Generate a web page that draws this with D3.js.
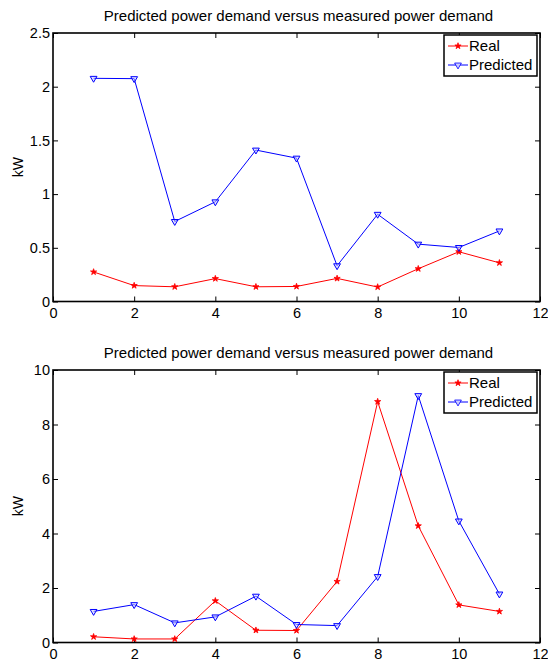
<!DOCTYPE html>
<html>
<head>
<meta charset="utf-8">
<script src="https://cdn.jsdelivr.net/npm/d3@7"></script>
<style>
  body { margin: 0; background: #fff; }
  svg { display: block; font-family: "Liberation Sans", Arial, sans-serif; }
</style>
</head>
<body>
<div id="container"></div>
<script>
const width = 548;
const height = 661;

// hours 1..11
const hours = [1, 2, 3, 4, 5, 6, 7, 8, 9, 10, 11];

// top panel
const realTop = [0.275, 0.148, 0.137, 0.213, 0.137, 0.140, 0.215, 0.135, 0.305, 0.463, 0.360];
const predTop = [2.078, 2.075, 0.745, 0.928, 1.410, 1.335, 0.333, 0.812, 0.534, 0.503, 0.657];

// bottom panel
const realBottom = [0.21, 0.13, 0.13, 1.53, 0.45, 0.44, 2.24, 8.84, 4.28, 1.38, 1.14];
const predBottom = [1.14, 1.39, 0.72, 0.94, 1.70, 0.66, 0.62, 2.42, 9.06, 4.46, 1.78];

const xTicks = [0, 2, 4, 6, 8, 10, 12];
const yTicksTop = [0, 0.5, 1, 1.5, 2, 2.5];
const yTicksBottom = [0, 2, 4, 6, 8, 10];

const titleText = "Predicted power demand versus measured power demand";
const seriesNames = ["Real", "Predicted"];
const colors = { Real: "#ff0000", Predicted: "#0000ff" };

let svg = d3.select("#container")
	.append("svg")
	.attr("width", width)
	.attr("height", height);

// one subplot, MATLAB style
function drawPanel(box, yMax, yTicks, real, pred) {
	const x = d3.scaleLinear().domain([0, 12]).range([box.left, box.right]);
	const y = d3.scaleLinear().domain([0, yMax]).range([box.bottom, box.top]);
	const g = svg.append("g");
	const fmt = d => String(d);

	g.append("text")
		.attr("x", (box.left + box.right) / 2 + 2)
		.attr("y", box.top - 12)
		.attr("text-anchor", "middle")
		.attr("font-size", 15)
		.text(titleText);

	// ticks pointing inward, on all four sides
	g.append("g")
		.attr("transform", "translate(0," + box.bottom + ")")
		.call(d3.axisBottom(x).tickValues(xTicks).tickFormat(fmt).tickSizeInner(-5).tickSizeOuter(0).tickPadding(6))
		.call(a => a.select(".domain").remove());
	g.append("g")
		.attr("transform", "translate(0," + box.top + ")")
		.call(d3.axisTop(x).tickValues(xTicks).tickSizeInner(-5).tickSizeOuter(0).tickFormat(""))
		.call(a => a.select(".domain").remove());
	g.append("g")
		.attr("transform", "translate(" + box.left + ",0)")
		.call(d3.axisLeft(y).tickValues(yTicks).tickFormat(fmt).tickSizeInner(-5).tickSizeOuter(0).tickPadding(3))
		.call(a => a.select(".domain").remove());
	g.append("g")
		.attr("transform", "translate(" + box.right + ",0)")
		.call(d3.axisRight(y).tickValues(yTicks).tickSizeInner(-5).tickSizeOuter(0).tickFormat(""))
		.call(a => a.select(".domain").remove());

	g.selectAll(".tick text").attr("font-size", 14.5).attr("fill", "#000").attr("font-family", "Liberation Sans, Arial, sans-serif");
	g.selectAll(".tick line").attr("stroke", "#000");

	g.append("rect")
		.attr("x", box.left).attr("y", box.top)
		.attr("width", box.right - box.left).attr("height", box.bottom - box.top)
		.attr("fill", "none").attr("stroke", "#000").attr("stroke-width", 1.6);

	g.append("text")
		.attr("transform", "translate(23," + (box.top + box.bottom) / 2 + ") rotate(-90)")
		.attr("text-anchor", "middle")
		.attr("font-size", 14)
		.text("kW");

	const line = d3.line().x((d, i) => x(hours[i])).y(d => y(d));

	g.append("path").datum(real).attr("d", line)
		.attr("fill", "none").attr("stroke", colors.Real).attr("stroke-width", 1);
	g.append("path").datum(pred).attr("d", line)
		.attr("fill", "none").attr("stroke", colors.Predicted).attr("stroke-width", 1);

	const star = d3.symbol().type(d3.symbolStar).size(12);
	g.selectAll(".real").data(real).enter()
		.append("path")
		.attr("transform", (d, i) => "translate(" + x(hours[i]) + "," + y(d) + ")")
		.attr("d", star)
		.attr("fill", colors.Real).attr("stroke", colors.Real).attr("stroke-width", 0.8);

	const tri = d3.symbol().type(d3.symbolTriangle).size(20);
	g.selectAll(".pred").data(pred).enter()
		.append("path")
		.attr("transform", (d, i) => "translate(" + x(hours[i]) + "," + y(d) + ") rotate(180)")
		.attr("d", tri)
		.attr("fill", "#ccccff").attr("fill-opacity", 0.5).attr("stroke", colors.Predicted).attr("stroke-width", 1);

	// legend
	const lg = g.append("g").attr("transform", "translate(" + (box.right - 96) + "," + (box.top + 2) + ")");
	lg.append("rect").attr("width", 93).attr("height", 41)
		.attr("fill", "#fff").attr("stroke", "#000").attr("stroke-width", 1.5);
	seriesNames.forEach((name, i) => {
		const cy = 11 + i * 19;
		lg.append("line").attr("x1", 4).attr("x2", 24).attr("y1", cy).attr("y2", cy)
			.attr("stroke", colors[name]).attr("stroke-width", 1);
		lg.append("path")
			.attr("transform", "translate(14," + cy + ")" + (name === "Predicted" ? " rotate(180)" : ""))
			.attr("d", name === "Real" ? star : tri)
			.attr("fill", name === "Real" ? colors.Real : "#ccccff")
			.attr("stroke", colors[name]).attr("stroke-width", 0.8);
		lg.append("text").attr("x", 25).attr("y", cy + 5)
			.attr("font-size", 15).text(name);
	});
}

drawPanel({ left: 53, right: 540, top: 33, bottom: 301.5 }, 2.5, yTicksTop, realTop, predTop);
drawPanel({ left: 53, right: 540, top: 370, bottom: 642.5 }, 10, yTicksBottom, realBottom, predBottom);
</script>
</body>
</html>
